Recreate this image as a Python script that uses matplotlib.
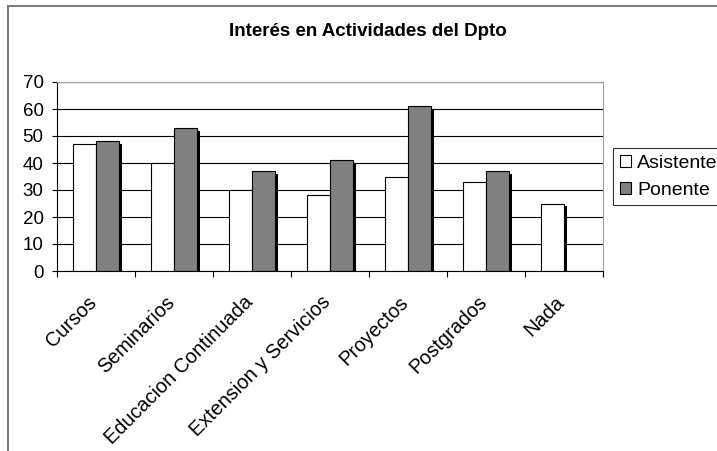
import matplotlib
matplotlib.use("Agg")
import matplotlib.pyplot as plt
import matplotlib.patheffects as pe
from matplotlib.lines import Line2D
import numpy as np

categories = ["Cursos", "Seminarios", "Educacion Continuada", "Extension y Servicios",
              "Proyectos", "Postgrados", "Nada"]
asistente = [47, 40, 30, 28, 35, 33, 25]
ponente = [48, 53, 37, 41, 61, 37, 0]
series_names = ["Asistente", "Ponente"]
title = "Interés en Actividades del Dpto"
yticks = [0, 10, 20, 30, 40, 50, 60, 70]

plt.rcParams['font.family'] = ['Liberation Sans', 'DejaVu Sans']

W, H = 717, 451
fig = plt.figure(figsize=(W / 100, H / 100), dpi=100)
ax = fig.add_axes([57 / W, 1 - 271 / H, (603 - 57) / W, (271 - 82) / H])

x = np.arange(len(categories))
w = 0.295
shadow = [pe.SimplePatchShadow(offset=(2, -2), shadow_rgbFace='black', alpha=1.0), pe.Normal()]

ba = ax.bar(x - w / 2, asistente, w, color='white', edgecolor='black', linewidth=0.8,
            label=series_names[0], zorder=2)
for p in ba:
    p.set_path_effects(shadow)
pon_x = [xi + w / 2 for xi, v in zip(x, ponente) if v > 0]
pon_v = [v for v in ponente if v > 0]
bp = ax.bar(pon_x, pon_v, w, color='#808080', edgecolor='black', linewidth=0.8,
            label=series_names[1], zorder=2)
for p in bp:
    p.set_path_effects(shadow)

FS = 13.5
ax.set_xlim(-0.5, len(categories) - 0.5)
ax.set_ylim(0, 70)
ax.set_yticks(yticks)
ax.set_yticklabels([str(t) for t in yticks], fontsize=FS)
ax.yaxis.grid(True, color='black', linewidth=0.8, zorder=0)
ax.set_axisbelow(True)

ax.set_xticks([])
for xi, cat in zip(x, categories):
    ax.annotate(cat, xy=(xi, 0), xycoords=('data', 'axes fraction'),
                xytext=(-6.5, -15.5), textcoords='offset points',
                rotation=45, ha='right', va='top', rotation_mode='anchor',
                fontsize=14.3, annotation_clip=False)
ax.set_xticks(np.arange(-0.5, len(categories)), minor=True)
ax.tick_params(axis='x', which='minor', length=4, direction='out', width=0.8)
ax.tick_params(axis='y', length=3.6, direction='out', width=0.8, pad=6)

for s in ['top', 'right']:
    ax.spines[s].set_color('#a0a0a0')
    ax.spines[s].set_linewidth(0.8)
for s in ['left', 'bottom']:
    ax.spines[s].set_color('black')
    ax.spines[s].set_linewidth(0.8)

fig.text(368 / W, 1 - 32 / H, title, ha='center', va='center', fontsize=13.5,
         fontweight='bold')

leg = fig.legend(handles=[ba, bp], labels=series_names, loc='upper left',
                 bbox_to_anchor=(613 / W, 1 - 148 / H), fontsize=14, frameon=True,
                 fancybox=False, edgecolor='black', borderpad=0.35, handlelength=0.6,
                 handleheight=0.6, handletextpad=0.3, labelspacing=0.5, borderaxespad=0)
leg.get_frame().set_linewidth(0.8)
for h in leg.legend_handles:
    h.set_path_effects([])

fig.add_artist(Line2D([8 / W, 8 / W], [0, 1 - 6 / H], color='#707070', linewidth=1.3))
fig.add_artist(Line2D([8 / W, 1], [1 - 6 / H, 1 - 6 / H], color='#707070', linewidth=1.3))

fig.savefig("out.png", dpi=100)
